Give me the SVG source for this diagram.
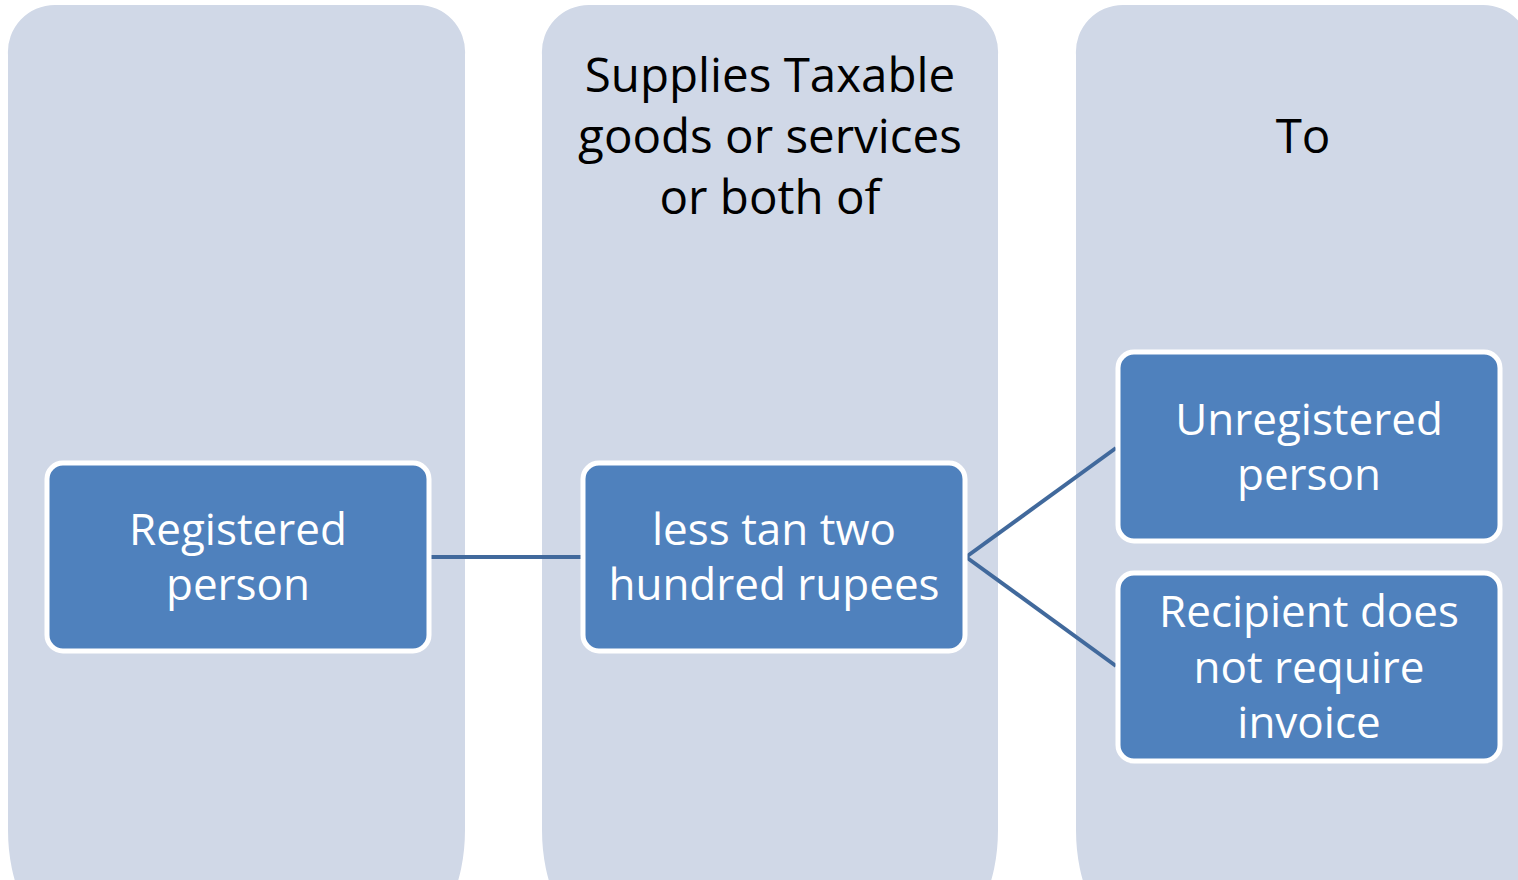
<svg xmlns="http://www.w3.org/2000/svg" width="1518" height="880" viewBox="0 0 1518 880">
<style>
.col{fill:#D0D8E7}
.node{fill:#4F81BD;stroke:#FFFFFF;stroke-width:5}
.hdr{font-family:"Open Sans","Liberation Sans",sans-serif;font-size:47.5px;fill:#000;text-anchor:middle}
.lbl{font-family:"Open Sans","Liberation Sans",sans-serif;font-size:44px;fill:#fff;text-anchor:middle}
.conn{stroke:#41699C;stroke-width:4;fill:none}
</style>
<rect width="1518" height="880" fill="#fff"/>
<g id="col1">
<path class="col" d="M8,55 A47,47 0 0 1 55,5 H418 A47,47 0 0 1 465,55 V830 A50,100 0 0 1 415,930 H58 A50,100 0 0 1 8,830 Z"/>
</g>
<g id="col2">
<path class="col" d="M542,55 A47,47 0 0 1 589,5 H951 A47,47 0 0 1 998,55 V830 A50,100 0 0 1 948,930 H592 A50,100 0 0 1 542,830 Z"/>
<text class="hdr" x="770" y="92">Supplies Taxable</text>
<text class="hdr" x="770" y="153">goods or services</text>
<text class="hdr" x="770" y="214">or both of</text>
</g>
<g id="col3">
<path class="col" d="M1076,55 A47,47 0 0 1 1123,5 H1483 A47,47 0 0 1 1530,55 V830 A50,100 0 0 1 1480,930 H1126 A50,100 0 0 1 1076,830 Z"/>
<text class="hdr" x="1303" y="153">To</text>
</g>
<g id="connectors">
<line class="conn" x1="430" y1="557" x2="581" y2="557"/>
<line class="conn" x1="966" y1="557" x2="1116" y2="448"/>
<line class="conn" x1="966" y1="557" x2="1116" y2="666"/>
</g>
<g id="registered">
<rect class="node" x="47" y="463" width="382" height="188" rx="16"/>
<text class="lbl" x="238" y="545">Registered</text>
<text class="lbl" x="238" y="600">person</text>
</g>
<g id="less">
<rect class="node" x="583" y="463" width="382" height="188" rx="16"/>
<text class="lbl" x="774" y="545">less tan two</text>
<text class="lbl" x="774" y="600">hundred rupees</text>
</g>
<g id="unregistered">
<rect class="node" x="1118" y="352" width="382" height="189" rx="16"/>
<text class="lbl" x="1309" y="435">Unregistered</text>
<text class="lbl" x="1309" y="490">person</text>
</g>
<g id="recipient">
<rect class="node" x="1118" y="573" width="382" height="188" rx="16"/>
<text class="lbl" x="1309" y="627">Recipient does</text>
<text class="lbl" x="1309" y="683">not require</text>
<text class="lbl" x="1309" y="738">invoice</text>
</g>
</svg>
